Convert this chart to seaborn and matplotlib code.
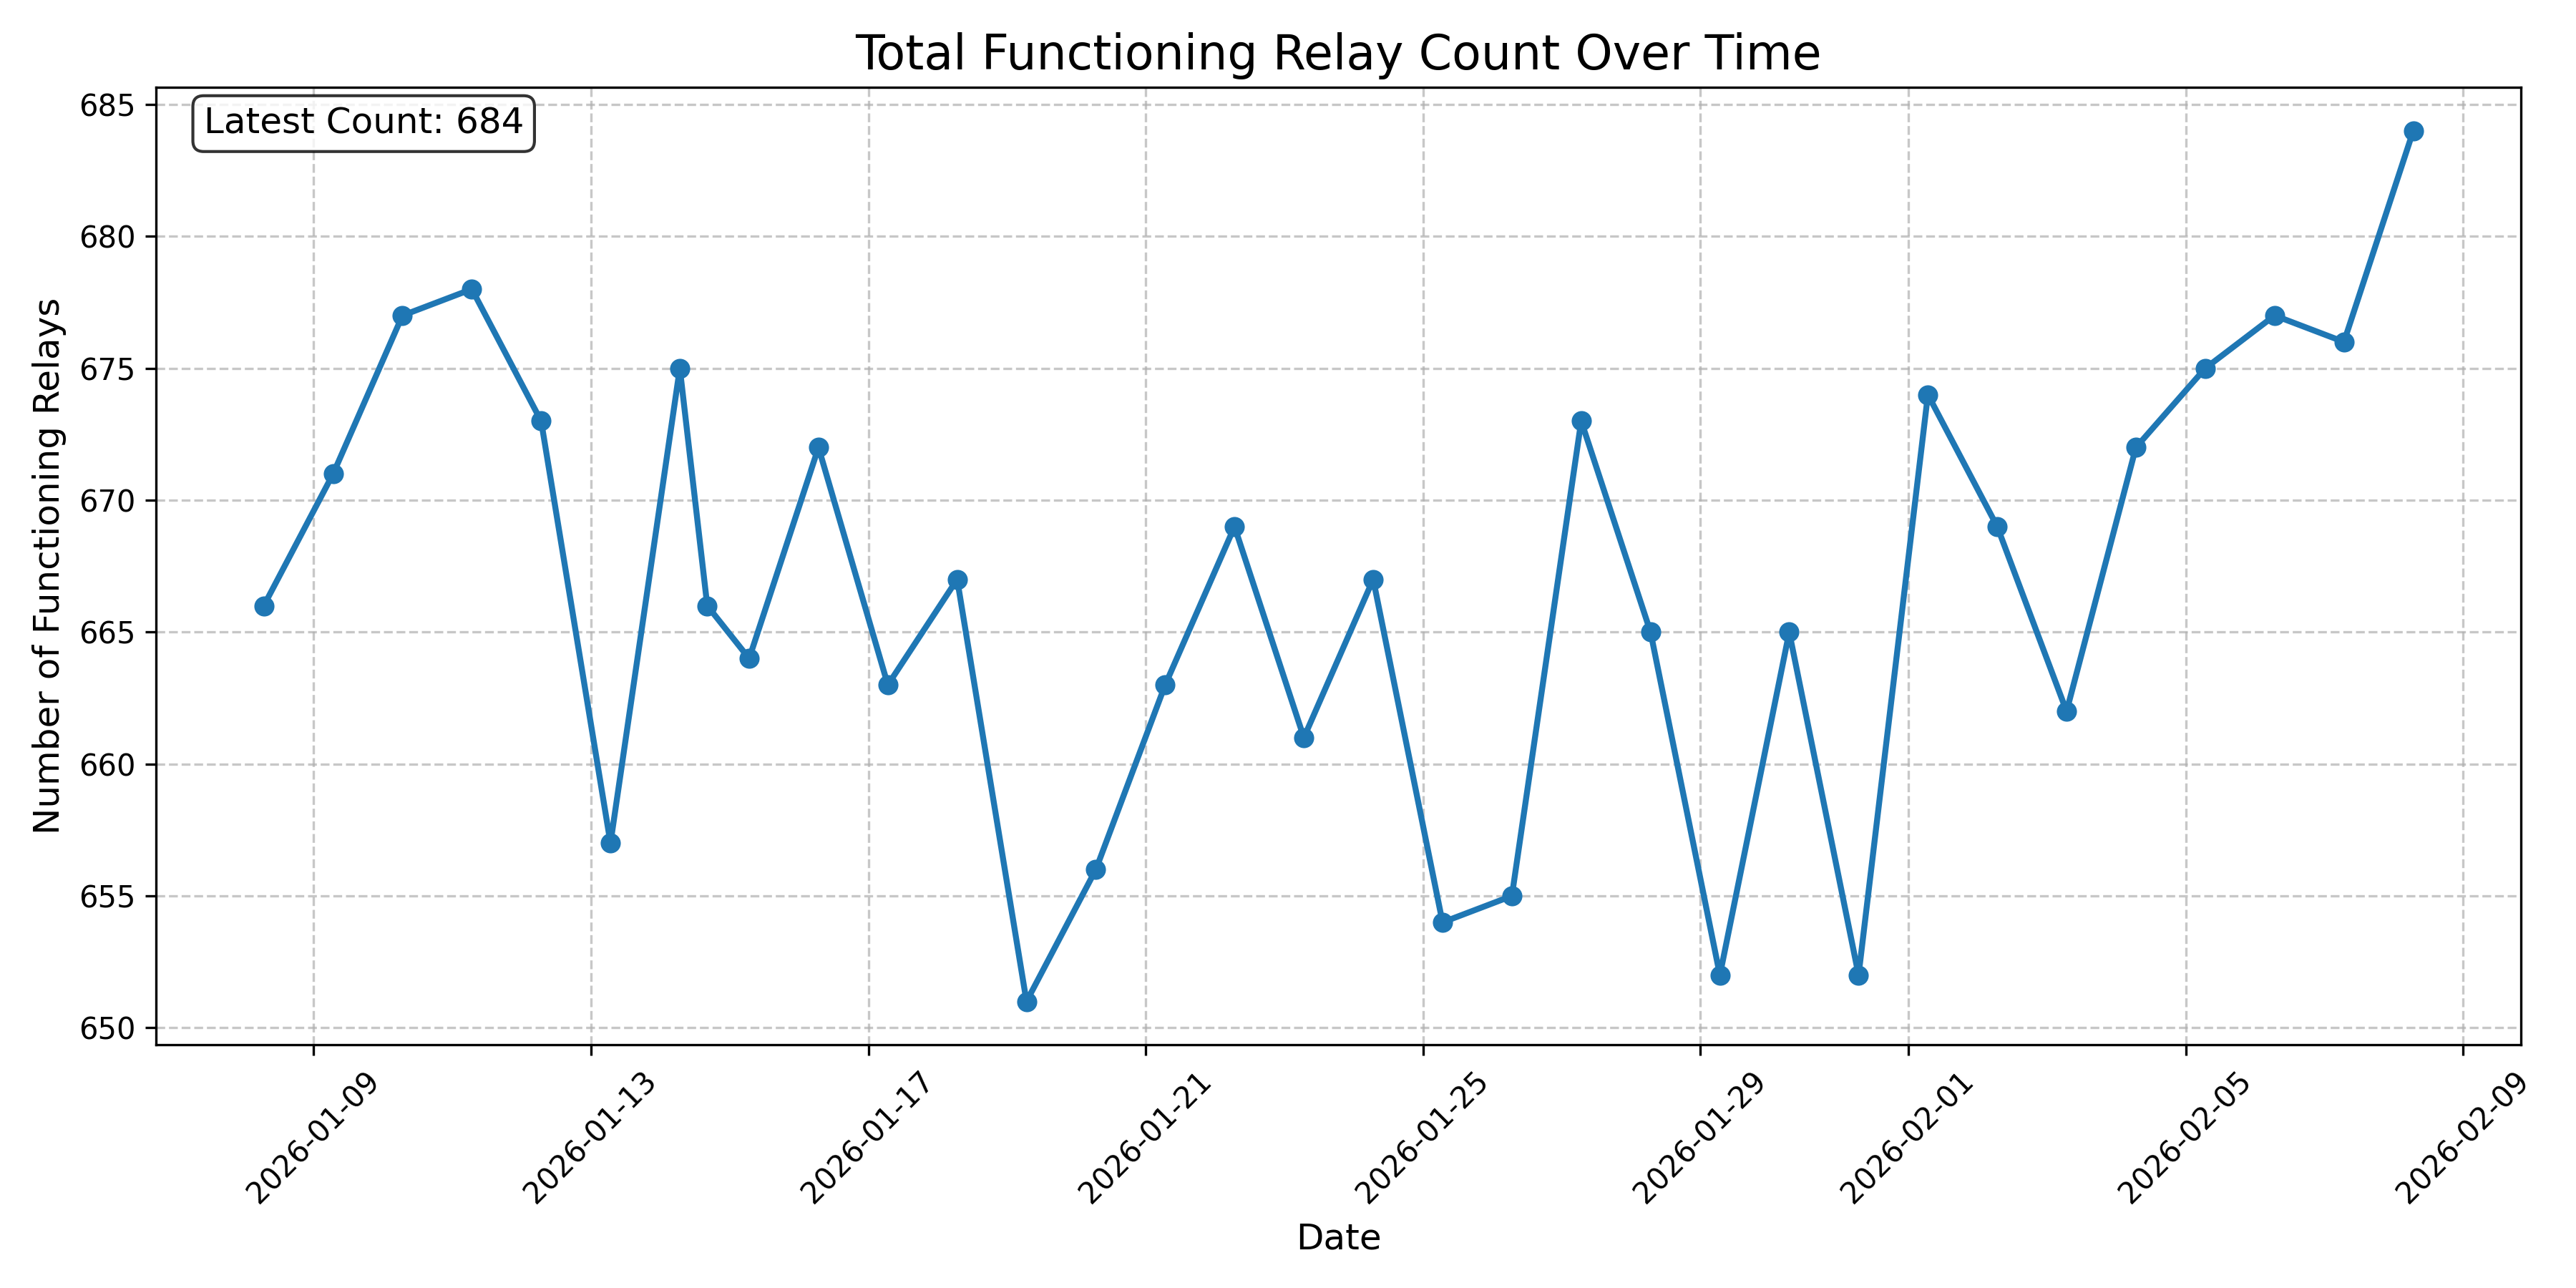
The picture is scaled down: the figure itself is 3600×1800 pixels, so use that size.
import pandas as pd
import matplotlib
matplotlib.use('Agg')
import matplotlib.pyplot as plt
import matplotlib.dates as mdates
import seaborn as sns

# ==== DATA ====
timestamps = [
    '2026-01-08 06:45', '2026-01-09 06:45', '2026-01-10 06:45', '2026-01-11 06:45',
    '2026-01-12 06:45', '2026-01-13 06:45', '2026-01-14 06:45', '2026-01-14 16:15',
    '2026-01-15 06:45', '2026-01-16 06:45', '2026-01-17 06:45', '2026-01-18 06:45',
    '2026-01-19 06:45', '2026-01-20 06:45', '2026-01-21 06:45', '2026-01-22 06:45',
    '2026-01-23 06:45', '2026-01-24 06:45', '2026-01-25 06:45', '2026-01-26 06:45',
    '2026-01-27 06:45', '2026-01-28 06:45', '2026-01-29 06:45', '2026-01-30 06:45',
    '2026-01-31 06:45', '2026-02-01 06:45', '2026-02-02 06:45', '2026-02-03 06:45',
    '2026-02-04 06:45', '2026-02-05 06:45', '2026-02-06 06:45', '2026-02-07 06:45',
    '2026-02-08 06:45',
]
relay_counts = [
    666, 671, 677, 678, 673, 657, 675, 666,
    664, 672, 663, 667, 651, 656, 663, 669,
    661, 667, 654, 655, 673, 665, 652, 665,
    652, 674, 669, 662, 672, 675, 677, 676,
    684,
]

df = pd.DataFrame({'Date': pd.to_datetime(timestamps), 'Count': relay_counts})

# ==== PLOT ====
fig, ax = plt.subplots(figsize=(12, 6), dpi=300)

sns.lineplot(data=df, x='Date', y='Count', ax=ax, marker='o', linewidth=2,
             markersize=6, color='#1f77b4', markeredgecolor='#1f77b4')

ax.set_title('Total Functioning Relay Count Over Time', fontsize=16)
ax.set_xlabel('Date', fontsize=12)
ax.set_ylabel('Number of Functioning Relays', fontsize=12)
ax.grid(True, linestyle='--', alpha=0.7)

ax.xaxis.set_major_formatter(mdates.DateFormatter('%Y-%m-%d'))
plt.setp(ax.get_xticklabels(), rotation=45)

latest = relay_counts[-1]
ax.text(0.02, 0.98, f'Latest Count: {latest}', transform=ax.transAxes,
        fontsize=12, va='top',
        bbox=dict(boxstyle='round', facecolor='white', alpha=0.8))

plt.tight_layout()
plt.savefig('out.png', dpi=300)
